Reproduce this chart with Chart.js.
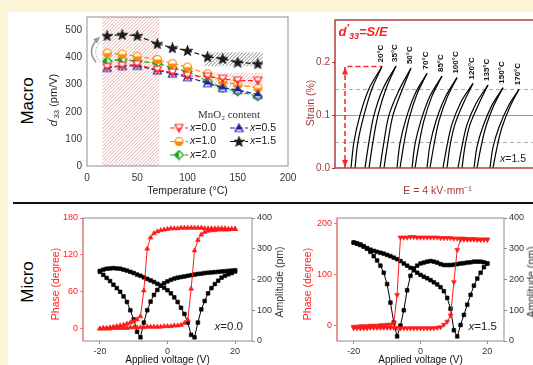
<!DOCTYPE html>
<html lang="en">
<head>
<meta charset="UTF-8">
<title>Macro and micro piezoelectric response</title>
<script src="https://cdn.jsdelivr.net/npm/chart.js"></script>
<style>
  html, body { margin: 0; padding: 0; }
  body { width: 533px; height: 365px; overflow: hidden; position: relative;
         background: #fdf3d7; font-family: "Liberation Sans", Arial, sans-serif; }
  #sheet { position: absolute; left: 8px; top: 12px; width: 560px; height: 400px; background: #fff; }
  canvas { position: absolute; }
  .lbl { position: absolute; white-space: nowrap; line-height: 1; transform: translate(-50%, -50%); }
  .vert { transform: translate(-50%, -50%) rotate(-90deg); }
  .rule { position: absolute; left: 13px; top: 202px; width: 540px; height: 2px; background: #111; }
  sub { font-size: 70%; vertical-align: -0.35em; line-height: 0; }
  sup { font-size: 80%; vertical-align: 0.35em; line-height: 0; }
</style>
</head>
<body>
<div id="sheet"></div>
<div class="rule"></div>
<canvas id="macroD33" width="256" height="192" style="left:40px;top:12px"></canvas>
<canvas id="macroStrain" width="245" height="192" style="left:300px;top:12px"></canvas>
<canvas id="pfm00" width="250" height="165" style="left:40px;top:205px"></canvas>
<canvas id="pfm15" width="255" height="165" style="left:290px;top:205px"></canvas>

<div class="lbl vert" style="left:27px;top:101px;font-size:17px">Macro</div>
<div class="lbl vert" style="left:27px;top:282px;font-size:17px">Micro</div>
<div class="lbl vert" style="left:53px;top:100px;font-size:11px;color:#222"><i>d</i><sup>′</sup><sub>33</sub> (pm/V)</div>
<div class="lbl vert" style="left:310px;top:103px;font-size:10.5px;color:#a33a3a">Strain (%)</div>
<div class="lbl" style="left:363px;top:31px;font-size:13px;color:#ff2020;font-weight:bold;font-style:italic">d<sup>′</sup><sub>33</sub>=S/E</div>
<div class="lbl vert" style="left:55px;top:284px;font-size:10.5px;color:#ff2020">Phase (degree)</div>
<div class="lbl vert" style="left:279px;top:282px;font-size:10.5px;color:#333">Amplitude (pm)</div>
<div class="lbl vert" style="left:307px;top:284px;font-size:10.5px;color:#ff2020">Phase (degree)</div>
<div class="lbl vert" style="left:531px;top:282px;font-size:10.5px;color:#333">Amplitude (pm)</div>

<script>
// ---- macro: d33* vs temperature ----
const temps = [20, 35, 50, 70, 85, 100, 120, 135, 150, 170];
const d33_x00 = [365, 370, 375, 355, 345, 333, 330, 322, 315, 315];
const d33_x05 = [362, 369, 370, 353, 341, 328, 306, 288, 281, 263];
const d33_x10 = [417, 413, 405, 393, 378, 365, 340, 312, 300, 288];
const d33_x15 = [481, 485, 481, 451, 436, 426, 403, 396, 383, 377];
const d33_x20 = [387, 393, 387, 380, 362, 349, 313, 288, 275, 257];
const mnLabels = ['x=0.0', 'x=0.5', 'x=1.0', 'x=1.5', 'x=2.0'];
const tempTicks = [0, 50, 100, 150, 200];
const d33Ticks = [0, 100, 200, 300, 400, 500];
// hatched ranges: [T from, T to, d33 from, d33 to]
const hatchRed = [[15, 72, 0, 550], [117, 175, 292, 345]];
const hatchGrey = [[117, 175, 367, 420]];
// grey curved arrow: start, control, end (T, d33)
const bendArrow = [[9, 382], [-1, 428], [11, 470]];

// ---- macro: strain loops at E = 4 kV/mm, x = 1.5 (E axis in arbitrary offset units) ----
const loopTemps = ['20°C', '35°C', '50°C', '70°C', '85°C', '100°C', '120°C', '135°C', '150°C', '170°C'];
const loop20  = [[16,0],[19,0.05],[25,0.1],[34,0.15],[47,0.192],[37,0.15],[29,0.1],[23,0.05],[20,0]];
const loop35  = [[30,0],[34,0.05],[39,0.1],[48,0.15],[61,0.193],[51,0.15],[43,0.1],[38,0.05],[34,0]];
const loop50  = [[45,0],[49,0.05],[54,0.1],[64,0.147],[76,0.189],[67,0.147],[58,0.1],[53,0.05],[49,0]];
const loop70  = [[62,0],[65,0.047],[71,0.093],[80,0.14],[92,0.179],[82,0.14],[74,0.093],[69,0.047],[65,0]];
const loop85  = [[77,0],[80,0.045],[86,0.09],[95,0.136],[107,0.174],[97,0.136],[89,0.09],[84,0.045],[80,0]];
const loop100 = [[92,0],[95,0.044],[101,0.089],[110,0.133],[122,0.171],[112,0.133],[104,0.089],[99,0.044],[95,0]];
const loop120 = [[108,0],[112,0.042],[117,0.083],[126,0.125],[138,0.16],[129,0.125],[120,0.083],[115,0.042],[112,0]];
const loop135 = [[123,0],[127,0.041],[132,0.082],[141,0.122],[153,0.157],[144,0.122],[135,0.082],[130,0.041],[127,0]];
const loop150 = [[139,0],[142,0.04],[148,0.079],[157,0.119],[168,0.152],[159,0.119],[151,0.079],[146,0.04],[142,0]];
const loop170 = [[155,0],[158,0.039],[164,0.077],[173,0.116],[184,0.149],[175,0.116],[167,0.077],[162,0.039],[158,0]];
const strainLoops = [loop20, loop35, loop50, loop70, loop85, loop100, loop120, loop135, loop150, loop170];
const strainTicks = [0, 0.1, 0.2];
const strainGuides = [0.05, 0.1, 0.15];
const arrowE = 10;

// ---- micro: PFM loops, voltage swept -20 -> 20 then 20 -> -20 ----
const volts = [-20,-19,-18,-17,-16,-15,-14,-13,-12,-11,-10,-9,-8,-7,-6,-5,-4,-3,-2,-1,0,1,2,3,4,5,6,7,8,9,10,11,12,13,14,15,16,17,18,19,20];
const voltTicks = [-20, 0, 20];
const ampTicks = [0, 100, 200, 300, 400];
const phase00Up   = [0,0,0,0,1,1,1,1,1,2,2,2,2,2,3,3,3,3,3,4,4,4,5,5,6,9,14,65,127,144,153,157,159,160,160,161,161,161,161,162,162];
const phase00Down = [162,162,162,163,163,163,163,163,163,163,164,164,164,164,164,164,164,163,163,163,162,161,160,158,155,148,130,62,20,15,12,10,8,6,5,4,3,2,1,1,0];
const amp00Up     = [228,232,235,236,237,236,235,232,229,225,221,216,212,207,202,197,192,186,180,173,165,155,142,127,108,88,60,20,12,60,103,130,155,172,185,196,206,212,217,221,226];
const amp00Down   = [230,229,228,227,226,225,224,223,222,221,219,218,216,214,212,210,208,206,203,199,194,188,180,166,150,128,100,60,12,30,70,100,127,145,160,172,183,195,205,215,225];
const phase15Up   = [-5,-5,-5,-5,-5,-4,-4,-4,-4,-4,-4,-4,-4,-4,-5,-5,-5,-5,-5,-5,-5,-5,-5,-5,-5,-4,-3,2,8,20,85,148,168,168,168,168,168,168,168,168,168];
const phase15Down = [168,168,168,168,169,169,169,170,170,170,170,171,171,171,171,172,172,172,172,172,172,172,173,173,172,172,172,60,5,2,2,1,1,0,0,0,-1,-1,-1,-2,-2];
const amp15Up     = [320,318,314,308,302,297,293,290,287,284,280,276,271,266,260,252,245,238,230,222,215,209,204,198,191,184,175,162,140,105,35,15,52,85,118,150,180,203,222,240,252];
const amp15Down   = [252,256,258,258,258,256,255,253,252,250,248,247,247,247,250,255,258,260,258,255,252,245,236,212,165,100,50,15,60,125,185,222,245,262,276,290,300,307,312,316,320];

const FONT = '"Liberation Sans", Arial, sans-serif';
Chart.defaults.font.family = FONT;
Chart.defaults.color = '#222';

function fixSize(size) {
  return s => {
    if (s.isHorizontal()) s.height = size; else s.width = size;
    s.paddingLeft = s.paddingRight = s.paddingTop = s.paddingBottom = 0;
  };
}
function setTicks(list) {
  return s => { s.ticks = list.map(v => ({ value: v })); };
}

// frame around the plot area
const frame = {
  id: 'frame',
  afterDatasetsDraw(chart, args, o) {
    const { ctx, chartArea: a } = chart;
    ctx.save();
    ctx.strokeStyle = o.color;
    ctx.lineWidth = o.width;
    ctx.strokeRect(a.left, a.top, a.width, a.height);
    if (o.leftColor) {
      ctx.strokeStyle = o.leftColor;
      ctx.beginPath(); ctx.moveTo(a.left, a.top); ctx.lineTo(a.left, a.bottom); ctx.stroke();
    }
    ctx.restore();
  }
};

// italic "x=..." tag in the lower right corner
function drawTag(ctx, text, xRight, y, size) {
  ctx.save();
  ctx.textBaseline = 'middle';
  ctx.textAlign = 'left';
  ctx.fillStyle = '#222';
  ctx.font = size + 'px ' + FONT;
  const rest = text.slice(1);
  const wRest = ctx.measureText(rest).width;
  ctx.font = 'italic ' + size + 'px ' + FONT;
  const wx = ctx.measureText('x').width;
  ctx.fillText('x', xRight - wRest - wx, y);
  ctx.font = size + 'px ' + FONT;
  ctx.fillText(rest, xRight - wRest, y);
  ctx.restore();
}
const tag = {
  id: 'tag',
  afterDatasetsDraw(chart, args, o) {
    const a = chart.chartArea;
    drawTag(chart.ctx, o.text, a.right - o.dx, a.bottom - o.dy, o.size);
  }
};

// ---------- panel 1 ----------
function makeMarker(kind, color) {
  const s = 11, m = s / 2;
  const c = document.createElement('canvas');
  c.width = s; c.height = s;
  const g = c.getContext('2d');
  g.beginPath();
  if (kind === 'down') { g.moveTo(1.5, 2); g.lineTo(s - 1.5, 2); g.lineTo(m, s - 1.5); }
  else if (kind === 'up') { g.moveTo(m, 1.5); g.lineTo(s - 1.5, s - 2); g.lineTo(1.5, s - 2); }
  else if (kind === 'circle') { g.arc(m, m, 4, 0, Math.PI * 2); }
  else if (kind === 'diamond') { g.moveTo(m, 1); g.lineTo(s - 1, m); g.lineTo(m, s - 1); g.lineTo(1, m); }
  else {
    for (let k = 0; k < 10; k++) {
      const r = k % 2 ? 2 : 4.8, ang = -Math.PI / 2 + k * Math.PI / 5;
      g.lineTo(m + r * Math.cos(ang), m + 0.4 + r * Math.sin(ang));
    }
  }
  g.closePath();
  g.fillStyle = '#fff'; g.fill();
  g.save(); g.clip();
  g.fillStyle = color;
  if (kind === 'diamond') g.fillRect(0, 0, m, s);
  else if (kind === 'star') g.fillRect(0, 0, s, s * 0.75);
  else if (kind === 'up') g.fillRect(0, 0, s, m + 1.5);
  else g.fillRect(0, m, s, s);
  g.restore();
  g.strokeStyle = color; g.lineWidth = 1.2; g.stroke();
  return c;
}

const d33Series = [d33_x00, d33_x05, d33_x10, d33_x15, d33_x20];
const d33Colors = ['#ff2a2a', '#20209e', '#ff8a00', '#1a1a1a', '#1e9e1e'];
const d33Shapes = ['down', 'up', 'circle', 'star', 'diamond'];

function hatchBox(ctx, x0, y0, x1, y1, color, step) {
  ctx.save();
  ctx.beginPath(); ctx.rect(x0, y0, x1 - x0, y1 - y0); ctx.clip();
  ctx.strokeStyle = color; ctx.lineWidth = 0.8;
  ctx.beginPath();
  const h = y1 - y0;
  for (let s = x0 - h; s < x1 + step; s += step) {
    ctx.moveTo(s, y1); ctx.lineTo(s + h, y0);
  }
  ctx.stroke();
  ctx.restore();
}

const d33Decor = {
  id: 'd33Decor',
  beforeDatasetsDraw(chart) {
    const { ctx, chartArea: a, scales: { x, y } } = chart;
    ctx.save();
    ctx.beginPath(); ctx.rect(a.left, a.top, a.width, a.height); ctx.clip();
    const box = (r, color, step) => hatchBox(ctx,
      x.getPixelForValue(r[0]), y.getPixelForValue(r[3]),
      x.getPixelForValue(r[1]), y.getPixelForValue(r[2]), color, step);
    hatchRed.forEach(r => box(r, '#e29a9a', 3.5));
    hatchGrey.forEach(r => box(r, '#666', 3.5));
    // curved grey arrow
    const p = bendArrow.map(q => [x.getPixelForValue(q[0]), y.getPixelForValue(q[1])]);
    ctx.strokeStyle = '#9a9a9a'; ctx.lineWidth = 1.6;
    ctx.beginPath(); ctx.moveTo(p[0][0], p[0][1]);
    ctx.quadraticCurveTo(p[1][0], p[1][1], p[2][0], p[2][1]); ctx.stroke();
    ctx.setLineDash([1.5, 1.5]); ctx.lineWidth = 1;
    ctx.beginPath(); ctx.moveTo(p[0][0] + 4, p[0][1]);
    ctx.quadraticCurveTo(p[1][0] + 5, p[1][1], p[2][0] + 3, p[2][1] + 3); ctx.stroke();
    ctx.setLineDash([]);
    const ang = Math.atan2(p[2][1] - p[1][1], p[2][0] - p[1][0]);
    ctx.fillStyle = '#9a9a9a';
    ctx.beginPath();
    ctx.moveTo(p[2][0] + 3 * Math.cos(ang), p[2][1] + 3 * Math.sin(ang));
    ctx.lineTo(p[2][0] + 5 * Math.cos(ang + 2.5), p[2][1] + 5 * Math.sin(ang + 2.5));
    ctx.lineTo(p[2][0] + 5 * Math.cos(ang - 2.5), p[2][1] + 5 * Math.sin(ang - 2.5));
    ctx.closePath(); ctx.fill();
    ctx.restore();
  },
  afterDatasetsDraw(chart) {
    const { ctx, chartArea: a } = chart;
    ctx.save();
    ctx.font = '11px "Liberation Serif", "Times New Roman", serif';
    ctx.fillStyle = '#333'; ctx.textAlign = 'center'; ctx.textBaseline = 'middle';
    ctx.fillText('MnO₂ content', a.left + 142, a.top + 98);
    chart.data.datasets.forEach((ds, i) => {
      const col = i % 2, row = Math.floor(i / 2);
      const x0 = a.left + 83 + col * 60, y0 = a.top + 111 + row * 13.5;
      ctx.strokeStyle = ds.borderColor; ctx.lineWidth = 1.2; ctx.setLineDash(ds.borderDash);
      ctx.beginPath(); ctx.moveTo(x0, y0); ctx.lineTo(x0 + 18, y0); ctx.stroke();
      ctx.setLineDash([]);
      const img = ds.pointStyle;
      ctx.drawImage(img, x0 + 9 - img.width / 2, y0 - img.height / 2);
      ctx.textAlign = 'left'; ctx.fillStyle = '#222';
      ctx.font = 'italic 10.5px ' + FONT;
      ctx.fillText('x', x0 + 20, y0);
      const w = ctx.measureText('x').width;
      ctx.font = '10.5px ' + FONT;
      ctx.fillText(ds.label.slice(1), x0 + 20 + w, y0);
    });
    ctx.restore();
  }
};

new Chart(document.getElementById('macroD33'), {
  type: 'line',
  data: {
    datasets: d33Series.map((vals, i) => ({
      label: mnLabels[i],
      data: vals.map((v, j) => ({ x: temps[j], y: v })),
      borderColor: d33Colors[i],
      borderWidth: 1.2,
      borderDash: [5, 2.5],
      pointStyle: makeMarker(d33Shapes[i], d33Colors[i]),
      pointRadius: 5,
      tension: 0
    }))
  },
  options: {
    responsive: false, animation: false, events: [],
    layout: { autoPadding: false, padding: { left: 0, top: 5, right: 8, bottom: 0 } },
    plugins: { legend: { display: false }, tooltip: { enabled: false },
               frame: { color: '#8f8f8f', width: 1 } },
    scales: {
      x: {
        type: 'linear', min: 0, max: 200,
        afterBuildTicks: setTicks(tempTicks), afterFit: fixSize(38),
        grid: { display: false, drawTicks: false }, border: { display: false },
        ticks: { font: { size: 10 }, color: '#333', padding: 6 },
        title: { display: true, text: 'Temperature (°C)', font: { size: 10.5 }, color: '#222',
                 padding: { top: 0, bottom: 7 } }
      },
      y: {
        min: 0, max: 550,
        afterBuildTicks: setTicks(d33Ticks), afterFit: fixSize(47),
        grid: { display: false, drawTicks: false }, border: { display: false },
        ticks: { font: { size: 10 }, color: '#333', padding: 5 }
      }
    }
  },
  plugins: [d33Decor, frame]
});

// ---------- panel 2 ----------
const STRAIN_RED = '#a33a3a';
const strainDecor = {
  id: 'strainDecor',
  beforeDatasetsDraw(chart) {
    const { ctx, chartArea: a, scales: { y } } = chart;
    ctx.save();
    strainGuides.forEach((v, i) => {
      const py = Math.round(y.getPixelForValue(v)) + 0.5;
      ctx.strokeStyle = i === 1 ? '#9a9a9a' : '#a8a8a8';
      ctx.lineWidth = 1;
      ctx.setLineDash(i === 1 ? [] : [4, 3]);
      ctx.beginPath(); ctx.moveTo(a.left, py); ctx.lineTo(a.right, py); ctx.stroke();
    });
    ctx.restore();
  },
  afterDatasetsDraw(chart) {
    const { ctx, scales: { x, y } } = chart;
    ctx.save();
    ctx.font = 'bold 8px ' + FONT; ctx.fillStyle = '#111';
    ctx.textAlign = 'left'; ctx.textBaseline = 'middle';
    strainLoops.forEach((loop, i) => {
      const top = loop.reduce((m, p) => (p[1] > m[1] ? p : m));
      ctx.save();
      ctx.translate(x.getPixelForValue(top[0]) - 1, y.getPixelForValue(top[1]) - 4);
      ctx.rotate(-Math.PI / 2);
      ctx.fillText(loopTemps[i], 0, 0);
      ctx.restore();
    });
    // double arrow heads on the red dashed marker
    const ax = x.getPixelForValue(arrowE);
    const top = loop20.reduce((m, p) => (p[1] > m[1] ? p : m));
    const yTop = y.getPixelForValue(top[1]), yBot = y.getPixelForValue(0);
    ctx.fillStyle = '#ff2020';
    ctx.beginPath(); ctx.moveTo(ax, yTop + 1); ctx.lineTo(ax - 3, yTop + 8); ctx.lineTo(ax + 3, yTop + 8); ctx.fill();
    ctx.beginPath(); ctx.moveTo(ax, yBot - 1); ctx.lineTo(ax - 3, yBot - 8); ctx.lineTo(ax + 3, yBot - 8); ctx.fill();
    ctx.restore();
  }
};

const strainSets = [];
strainLoops.forEach(loop => {
  strainSets.push({ data: loop.slice(0, 5).map(p => ({ x: p[0], y: p[1] })) });
  strainSets.push({ data: loop.slice(4).map(p => ({ x: p[0], y: p[1] })) });
});
strainSets.forEach(ds => Object.assign(ds, { borderColor: '#000', borderWidth: 1.2, pointRadius: 0, tension: 0.35 }));
const peak20 = loop20.reduce((m, p) => (p[1] > m[1] ? p : m));
strainSets.push({
  data: [{ x: arrowE, y: 0 }, { x: arrowE, y: peak20[1] }, { x: peak20[0], y: peak20[1] }],
  borderColor: '#ff2020', borderWidth: 1.5, borderDash: [5, 3], pointRadius: 0, tension: 0
});

new Chart(document.getElementById('macroStrain'), {
  type: 'line',
  data: { datasets: strainSets },
  options: {
    responsive: false, animation: false, events: [],
    layout: { autoPadding: false, padding: { left: 0, top: 8, right: 5, bottom: 0 } },
    plugins: { legend: { display: false }, tooltip: { enabled: false },
               frame: { color: '#b33c3c', width: 1.5 },
               tag: { text: 'x=1.5', dx: 14, dy: 9, size: 10.5 } },
    scales: {
      x: {
        type: 'linear', min: 0, max: 205, afterFit: fixSize(36),
        grid: { display: false, drawTicks: false }, border: { display: false }, ticks: { display: false },
        title: { display: true, text: 'E = 4 kV·mm⁻¹', font: { size: 10.5 }, color: STRAIN_RED,
                 padding: { top: 0, bottom: 7 } }
      },
      y: {
        min: 0, max: 0.28,
        afterBuildTicks: setTicks(strainTicks), afterFit: fixSize(35),
        grid: { display: true, drawOnChartArea: false, tickLength: 3, color: STRAIN_RED },
        border: { display: false },
        ticks: { font: { size: 10 }, color: STRAIN_RED, padding: 2, callback: v => v.toFixed(1) }
      }
    }
  },
  plugins: [strainDecor, frame, tag]
});

// ---------- panels 3 and 4 ----------
const PHASE_RED = '#ff1a1a';
const sweep = volts.concat(volts.slice().reverse());

function pfmChart(id, p) {
  const phase = p.phaseUp.concat(p.phaseDown);
  const amp = p.ampUp.concat(p.ampDown);
  return new Chart(document.getElementById(id), {
    type: 'line',
    data: {
      datasets: [
        { data: sweep.map((v, i) => ({ x: v, y: phase[i] })), yAxisID: 'yP',
          borderColor: PHASE_RED, backgroundColor: PHASE_RED, borderWidth: 1,
          pointStyle: 'triangle', pointRotation: p.rot, pointRadius: 2.8, pointBorderWidth: 0.6, tension: 0 },
        { data: sweep.map((v, i) => ({ x: v, y: amp[i] })), yAxisID: 'yA',
          borderColor: '#000', backgroundColor: '#000', borderWidth: 1,
          pointStyle: 'rect', pointRadius: 2.6, pointBorderWidth: 0.6, tension: 0 }
      ]
    },
    options: {
      responsive: false, animation: false, events: [],
      layout: { autoPadding: false, padding: { left: 0, top: 13, right: p.padRight, bottom: 0 } },
      plugins: { legend: { display: false }, tooltip: { enabled: false },
                 frame: { color: '#8c8c8c', width: 1, leftColor: '#ff7070' },
                 tag: { text: p.tag, dx: p.tagDx, dy: 14, size: 11.5 } },
      scales: {
        x: {
          type: 'linear', min: -25, max: 25,
          afterBuildTicks: setTicks(voltTicks), afterFit: fixSize(29),
          grid: { display: true, drawOnChartArea: false, tickLength: 3, color: '#8c8c8c' },
          border: { display: false },
          ticks: { font: { size: 9 }, color: '#333', padding: 2 },
          title: { display: true, text: 'Applied voltage (V)', font: { size: 10 }, color: '#111',
                   padding: { top: 0, bottom: 4 } }
        },
        yP: {
          position: 'left', min: p.pMin, max: p.pMax,
          afterBuildTicks: setTicks(p.pTicks), afterFit: fixSize(p.leftW),
          grid: { display: true, drawOnChartArea: false, tickLength: 3, color: '#ff7070' },
          border: { display: false },
          ticks: { font: { size: 9 }, color: PHASE_RED, padding: 2 }
        },
        yA: {
          position: 'right', min: 0, max: 400,
          afterBuildTicks: setTicks(ampTicks), afterFit: fixSize(20),
          grid: { display: true, drawOnChartArea: false, tickLength: 3, color: '#8c8c8c' },
          border: { display: false },
          ticks: { font: { size: 9 }, color: '#333', padding: 2 }
        }
      }
    },
    plugins: [frame, tag]
  });
}

pfmChart('pfm00', {
  phaseUp: phase00Up, phaseDown: phase00Down, ampUp: amp00Up, ampDown: amp00Down,
  pMin: -20, pMax: 180, pTicks: [0, 60, 120, 180], rot: 0,
  leftW: 43, padRight: 18, tag: 'x=0.0', tagDx: 9
});
pfmChart('pfm15', {
  phaseUp: phase15Up, phaseDown: phase15Down, ampUp: amp15Up, ampDown: amp15Down,
  pMin: -30, pMax: 210, pTicks: [0, 100, 200], rot: 180,
  leftW: 47, padRight: 21, tag: 'x=1.5', tagDx: 7
});
</script>
</body>
</html>
